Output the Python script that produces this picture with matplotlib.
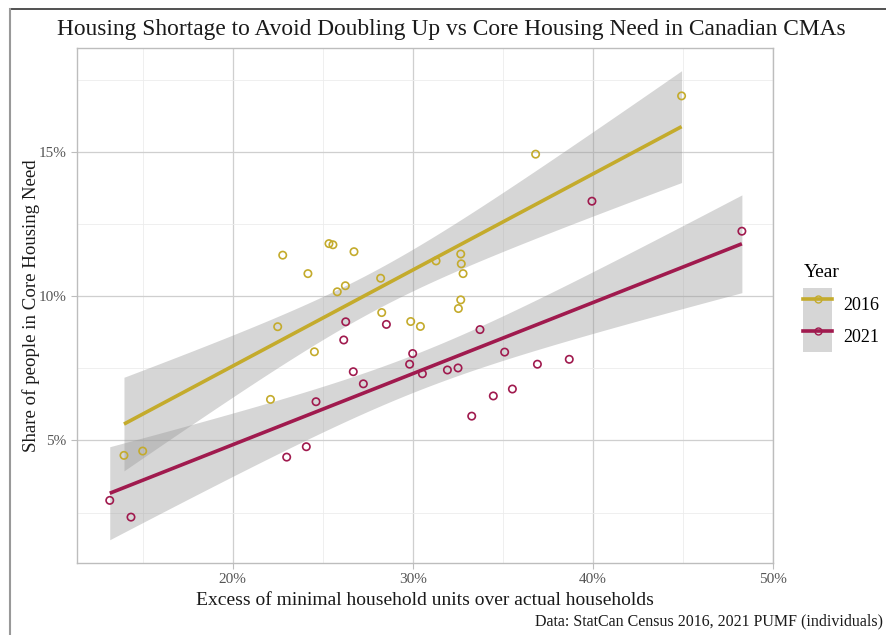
import matplotlib
matplotlib.use("Agg")
import matplotlib.pyplot as plt
from matplotlib.lines import Line2D
from matplotlib.patches import Rectangle
from matplotlib.legend_handler import HandlerTuple
from matplotlib.ticker import FuncFormatter, MultipleLocator
import numpy as np

plt.rcParams['font.family'] = ['Liberation Serif', 'DejaVu Serif']

# excess of minimal household units over actual households (%), share in core housing need (%)
x_2016 = [13.96, 15.0, 22.1, 22.5, 24.54, 22.78, 25.35, 25.57, 26.74, 24.18, 25.81, 26.26,
          28.22, 31.3, 32.67, 32.7, 32.8, 32.67, 32.54, 28.28, 29.89, 30.43, 36.83, 44.94]
y_2016 = [4.48, 4.63, 6.42, 8.94, 8.07, 11.42, 11.82, 11.78, 11.54, 10.78, 10.15, 10.36,
          10.62, 11.22, 11.46, 11.12, 10.78, 9.87, 9.57, 9.43, 9.12, 8.95, 14.92, 16.94]

x_2021 = [13.17, 14.35, 23.0, 24.09, 24.63, 26.17, 26.7, 27.26, 26.28, 28.54, 30.0, 29.83,
          30.54, 31.93, 32.52, 33.74, 34.48, 33.28, 35.11, 36.93, 38.7, 35.54, 39.96, 48.29]
y_2021 = [2.92, 2.34, 4.42, 4.78, 6.34, 8.48, 7.38, 6.96, 9.11, 9.02, 8.01, 7.64,
          7.31, 7.44, 7.51, 8.84, 6.54, 5.84, 8.06, 7.64, 7.81, 6.78, 13.29, 12.25]

years = ["2016", "2021"]
colors = {"2016": "#c4ab2c", "2021": "#a01a4e"}
series = {"2016": (x_2016, y_2016), "2021": (x_2021, y_2021)}


def lm_band(x, y, n=80):
    # linear fit with 95% confidence band, like geom_smooth(method="lm")
    x = np.asarray(x)
    y = np.asarray(y)
    b, a = np.polyfit(x, y, 1)
    xs = np.linspace(x.min(), x.max(), n)
    resid = y - (a + b * x)
    dof = len(x) - 2
    s = np.sqrt(np.sum(resid ** 2) / dof)
    sxx = np.sum((x - x.mean()) ** 2)
    se = s * np.sqrt(1 / len(x) + (xs - x.mean()) ** 2 / sxx)
    t = 2.074  # t(0.975, 22)
    fit = a + b * xs
    return xs, fit, fit - t * se, fit + t * se


fig = plt.figure(figsize=(8.87, 6.35), dpi=100)
ax = fig.add_axes([0.0868, 0.1134, 0.7847, 0.8110])

for yr in years:
    x, y = series[yr]
    xs, fit, lo, hi = lm_band(x, y)
    ax.fill_between(xs, lo, hi, color="#999999", alpha=0.4, lw=0, zorder=2)
for yr in years:
    x, y = series[yr]
    xs, fit, lo, hi = lm_band(x, y)
    ax.plot(xs, fit, color=colors[yr], lw=2.6, zorder=3, solid_capstyle="butt")
    ax.scatter(x, y, s=28, facecolors="none", edgecolors=colors[yr], linewidths=1.2, zorder=4)

ax.set_xlim(11.35, 50.02)
ax.set_ylim(0.75, 18.6)
ax.xaxis.set_major_locator(MultipleLocator(10))
ax.xaxis.set_minor_locator(MultipleLocator(5))
ax.yaxis.set_major_locator(MultipleLocator(5))
ax.yaxis.set_minor_locator(MultipleLocator(2.5))
pct = FuncFormatter(lambda v, p: "%d%%" % v)
ax.xaxis.set_major_formatter(pct)
ax.yaxis.set_major_formatter(pct)

ax.grid(which="major", color="#cfcfcf", lw=0.9, zorder=0)
ax.grid(which="minor", color="#ececec", lw=0.6, zorder=0)
ax.set_axisbelow(True)
for sp in ax.spines.values():
    sp.set_color("#bdbdbd")
    sp.set_linewidth(1.0)
ax.tick_params(which="major", colors="#bdbdbd", length=4, width=0.8, labelcolor="#555555", labelsize=11)
ax.tick_params(which="minor", length=0)

ax.set_xlabel("Excess of minimal household units over actual households", fontsize=14, color="#1a1a1a", labelpad=4)
ax.set_ylabel("Share of people in Core Housing Need", fontsize=13.6, color="#1a1a1a", labelpad=-1)
fig.text(0.509, 0.953, "Housing Shortage to Avoid Doubling Up vs Core Housing Need in Canadian CMAs",
         ha="center", va="center", fontsize=16.8, color="#1a1a1a")
fig.text(0.995, 0.022, "Data: StatCan Census 2016, 2021 PUMF (individuals)",
         ha="right", va="center", fontsize=11.5, color="#1a1a1a")

# legend: keys drawn on a grey band, as the smoother ribbon
handles = [(Rectangle((0, 0), 1, 1, facecolor="#d6d6d6", edgecolor="none"),
            Line2D([0], [0], color=colors[yr], lw=2.6, marker="o", markersize=5,
                   markerfacecolor="none", markeredgecolor=colors[yr])) for yr in years]
leg = fig.legend(handles, years, title="Year", loc="center left", bbox_to_anchor=(0.8975, 0.515),
                 frameon=False, fontsize=13, title_fontsize=14, handlelength=1.6, handleheight=2.35,
                 handletextpad=0.6, labelspacing=0.0, borderaxespad=0,
                 handler_map={tuple: HandlerTuple(ndivide=1, pad=0)})
leg._legend_box.align = "left"
leg._legend_box.sep = 5  # gap between title and keys

# outer frame
fig.add_artist(Line2D([10 / 887, 1], [1 - 9 / 635, 1 - 9 / 635], color="#333333", lw=1.2, transform=fig.transFigure))
fig.add_artist(Line2D([10 / 887, 10 / 887], [0, 1 - 9 / 635], color="#999999", lw=1.5, transform=fig.transFigure))

fig.savefig("out.png", dpi=100)
